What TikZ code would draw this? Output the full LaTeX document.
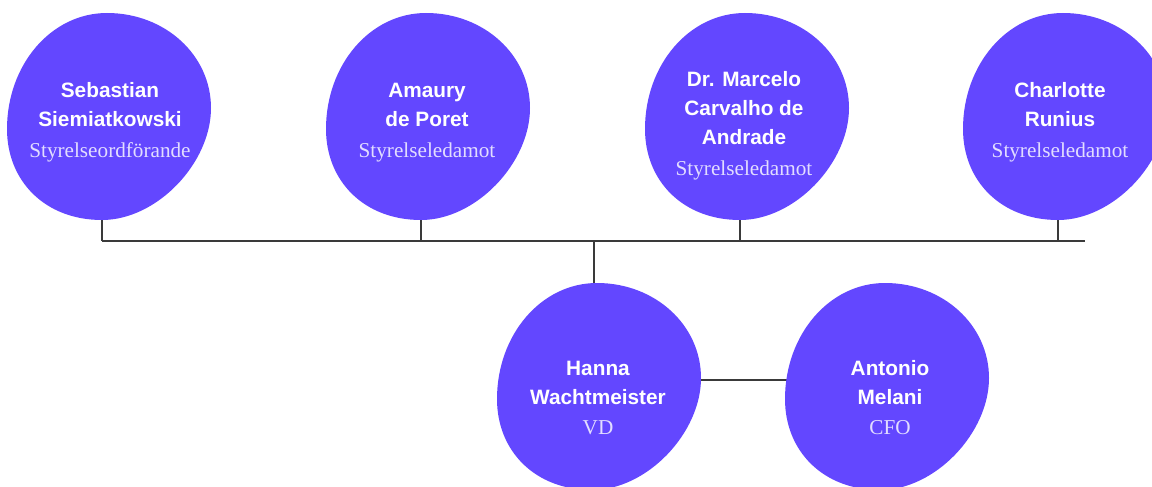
\documentclass[tikz,border=0pt]{standalone}
\usepackage{fontspec}
\setmainfont{Liberation Serif}
\newfontfamily\namefont{Liberation Sans}
\definecolor{blobc}{HTML}{6347FF}
\definecolor{rolec}{HTML}{E2DDFF}
\definecolor{linec}{HTML}{3A3A3A}
\tikzset{
 blobshape/.style={fill=blobc, draw=none},
 nm/.style={anchor=base, inner sep=0pt, text=white, font=\namefont\bfseries\fontsize{20.8}{24}\selectfont},
 rl/.style={anchor=base, inner sep=0pt, text=rolec, font=\fontsize{21.2}{24}\selectfont},
 link/.style={draw=linec, line width=1.2pt}
}
\newcommand\blobat[3]{%
 \path[blobshape, shift={(#2,#3)}] (100,0) .. controls (158,0) and (204,42) .. (204,95)
   .. controls (204,150) and (150,207) .. (95,207)
   .. controls (38,207) and (0,168) .. (0,116)
   .. controls (0,52) and (44,0) .. (100,0) -- cycle;
}
\newcommand\blobcoords[3]{%
 \coordinate (#1-top) at (#2+97,#3);
 \coordinate (#1-bot) at (#2+95,#3+207);
 \coordinate (#1-left) at (#2+4,#3+97);
 \coordinate (#1-right) at (#2+200,#3+97);
}
\begin{document}
\begin{tikzpicture}[x=1pt,y=-1pt]
\useasboundingbox (0,0) rectangle (1152,487);
\blobcoords{b1}{7}{13}
\blobcoords{b2}{326}{13}
\blobcoords{b3}{645}{13}
\blobcoords{b4}{963}{13}
\blobcoords{hw}{497}{283}
\blobcoords{am}{785}{283}
\coordinate (busL) at (102,241);
\coordinate (busR) at (1085,241);
\coordinate (busM) at (594,241);
% connectors
\draw[link] (busL) -- (busR);
\draw[link] (b1-bot) -- (b1-bot |- busL);
\draw[link] (b2-bot) -- (b2-bot |- busL);
\draw[link] (b3-bot) -- (b3-bot |- busL);
\draw[link] (b4-bot) -- (b4-bot |- busL);
\draw[link] (busM) -- (hw-top);
\draw[link] (hw-right) -- (am-left);
% blobs
\blobat{b1}{7}{13}
\blobat{b2}{326}{13}
\blobat{b3}{645}{13}
\blobat{b4}{963}{13}
\blobat{hw}{497}{283}
\blobat{am}{785}{283}
% texts
\node[nm] (t1a) at (110,97) {Sebastian};
\node[nm] (t1b) at (110,126) {Siemiatkowski};
\node[rl] (t1c) at (110,157) {Styrelseordförande};
\node[nm] (t2a) at (427,97) {Amaury};
\node[nm] (t2b) at (427,126) {de Poret};
\node[rl] (t2c) at (427,157) {Styrelseledamot};
\node[nm] (t3a) at (744,86) {Dr. Marcelo};
\node[nm] (t3b) at (744,115) {Carvalho de};
\node[nm] (t3c) at (744,144) {Andrade};
\node[rl] (t3d) at (744,175) {Styrelseledamot};
\node[nm] (t4a) at (1060,97) {Charlotte};
\node[nm] (t4b) at (1060,126) {Runius};
\node[rl] (t4c) at (1060,157) {Styrelseledamot};
\node[nm] (t5a) at (598,375) {Hanna};
\node[nm] (t5b) at (598,404) {Wachtmeister};
\node[rl] (t5c) at (598,434) {VD};
\node[nm] (t6a) at (890,375) {Antonio};
\node[nm] (t6b) at (890,404) {Melani};
\node[rl] (t6c) at (890,434) {CFO};
\end{tikzpicture}
\end{document}
